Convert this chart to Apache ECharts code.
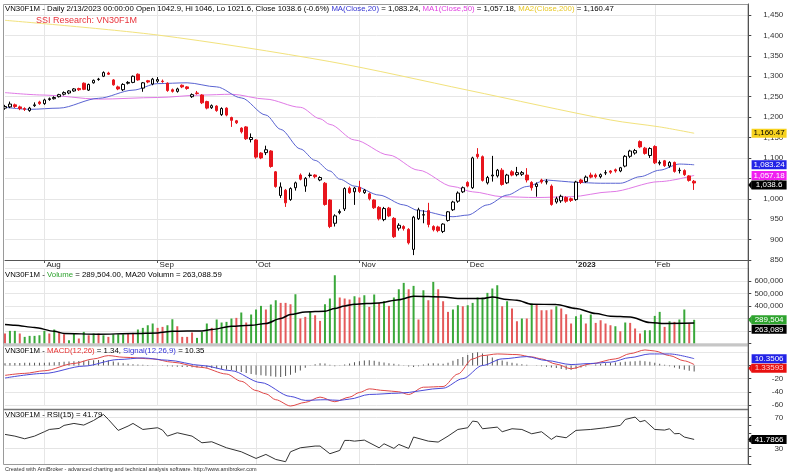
<!DOCTYPE html>
<html>
<head>
<meta charset="utf-8">
<title>VN30F1M</title>
<script src="https://cdn.jsdelivr.net/npm/echarts@6.0.0/dist/echarts.min.js"></script>
<style>
  html, body { margin: 0; padding: 0; background: #fff; }
  #chart { width: 790px; height: 472px; }
</style>
</head>
<body>
<div id="chart"></div>
<script>
// trading days on screen
const dates = [
  '2022-07-20','2022-07-21','2022-07-22','2022-07-25','2022-07-26','2022-07-27','2022-07-28','2022-07-29',
  '2022-08-01','2022-08-02','2022-08-03','2022-08-04','2022-08-05','2022-08-08','2022-08-09','2022-08-10',
  '2022-08-11','2022-08-12','2022-08-15','2022-08-16','2022-08-17','2022-08-18','2022-08-19','2022-08-22',
  '2022-08-23','2022-08-24','2022-08-25','2022-08-26','2022-08-29','2022-08-30','2022-08-31',
  '2022-09-05','2022-09-06','2022-09-07','2022-09-08','2022-09-09','2022-09-12','2022-09-13','2022-09-14',
  '2022-09-15','2022-09-16','2022-09-19','2022-09-20','2022-09-21','2022-09-22','2022-09-23','2022-09-26',
  '2022-09-27','2022-09-28','2022-09-29','2022-09-30',
  '2022-10-03','2022-10-04','2022-10-05','2022-10-06','2022-10-07','2022-10-10','2022-10-11','2022-10-12',
  '2022-10-13','2022-10-14','2022-10-17','2022-10-18','2022-10-19','2022-10-20','2022-10-21','2022-10-24',
  '2022-10-25','2022-10-26','2022-10-27','2022-10-28','2022-10-31',
  '2022-11-01','2022-11-02','2022-11-03','2022-11-04','2022-11-07','2022-11-08','2022-11-09','2022-11-10',
  '2022-11-11','2022-11-14','2022-11-15','2022-11-16','2022-11-17','2022-11-18','2022-11-21','2022-11-22',
  '2022-11-23','2022-11-24','2022-11-25','2022-11-28','2022-11-29','2022-11-30',
  '2022-12-01','2022-12-02','2022-12-05','2022-12-06','2022-12-07','2022-12-08','2022-12-09','2022-12-12',
  '2022-12-13','2022-12-14','2022-12-15','2022-12-16','2022-12-19','2022-12-20','2022-12-21','2022-12-22',
  '2022-12-23','2022-12-26','2022-12-27','2022-12-28','2022-12-29','2022-12-30',
  '2023-01-03','2023-01-04','2023-01-05','2023-01-06','2023-01-09','2023-01-10','2023-01-11','2023-01-12',
  '2023-01-13','2023-01-16','2023-01-17','2023-01-18','2023-01-19','2023-01-27','2023-01-30','2023-01-31',
  '2023-02-01','2023-02-02','2023-02-03','2023-02-06','2023-02-07','2023-02-08','2023-02-09','2023-02-10',
  '2023-02-13'
];

// [open, close, low, high]
const candles = [
  [1222,1226,1218,1230],[1225,1232,1222,1238],[1230,1226,1222,1233],[1225,1221,1217,1228],
  [1221,1219,1215,1224],[1216,1222,1213,1225],[1228,1230,1225,1236],[1237,1233,1230,1240],
  [1233,1242,1230,1245],[1243,1245,1240,1248],[1245,1248,1243,1251],[1250,1255,1248,1257],
  [1256,1260,1253,1263],[1259,1264,1256,1266],[1264,1269,1262,1271],[1270,1267,1264,1272],
  [1283,1268,1266,1285],[1266,1280,1264,1282],[1284,1290,1282,1292],[1292,1293,1289,1296],
  [1300,1309,1298,1312],[1308,1305,1303,1311],[1291,1279,1277,1293],[1274,1269,1266,1277],
  [1267,1280,1264,1283],[1283,1285,1280,1288],[1285,1300,1283,1302],[1305,1291,1289,1307],
  [1271,1284,1262,1286],[1289,1286,1283,1291],[1281,1293,1278,1296],[1288,1292,1284,1298],
  [1288,1287,1284,1292],[1283,1265,1262,1285],[1267,1263,1260,1270],[1263,1269,1260,1272],
  [1278,1274,1271,1280],[1274,1270,1267,1276],[1250,1255,1247,1258],[1259,1258,1255,1264],
  [1254,1235,1232,1256],[1238,1222,1219,1240],[1223,1228,1220,1231],[1227,1216,1213,1229],
  [1206,1221,1203,1224],[1222,1205,1202,1224],[1199,1192,1176,1201],[1191,1186,1183,1193],
  [1173,1164,1160,1175],[1176,1147,1144,1178],[1145,1150,1138,1160],[1144,1102,1098,1146],
  [1112,1100,1097,1114],[1113,1120,1107,1130],[1117,1079,1076,1119],[1066,1030,1027,1068],
  [1008,1029,1002,1040],[1021,990,980,1024],[998,1025,995,1028],[1027,1039,1020,1042],
  [1058,1048,1045,1062],[1031,1050,1017,1053],[1057,1058,1052,1064],[1058,1054,1050,1060],
  [1046,1052,1043,1055],[1038,986,983,1041],[997,932,928,999],[940,958,932,962],
  [966,969,962,974],[975,1025,970,1028],[1026,1015,1012,1030],[1017,1026,985,1029],
  [1028,1018,1014,1044],[1015,1021,1012,1024],[1012,1000,996,1015],[997,978,975,999],
  [979,951,947,982],[949,976,945,980],[977,958,955,980],[952,907,904,955],
  [928,935,922,940],[932,927,922,935],[925,892,888,928],[876,955,862,958],
  [951,973,948,978],[960,961,940,972],[971,937,930,990],[932,924,920,935],
  [931,922,918,934],[920,938,916,940],[947,968,944,970],[973,992,970,995],
  [994,1014,990,1018],[1017,1027,1014,1030],[1040,1031,1028,1043],[1027,1100,1024,1103],
  [1109,1103,1098,1124],[1103,1045,1042,1106],[1039,1052,1035,1056],[1056,1058,1042,1105],
  [1056,1070,1052,1073],[1070,1035,1032,1075],[1039,1058,1036,1061],[1066,1058,1055,1070],
  [1059,1064,1055,1078],[1060,1064,1056,1068],[1058,1046,1040,1075],[1040,1027,1020,1043],
  [1030,1036,1005,1040],[1046,1041,1037,1049],[1041,1042,1035,1048],[1031,986,983,1035],
  [992,1000,988,1005],[995,1006,990,1010],[1003,994,990,1006],[1000,996,992,1003],
  [998,1041,995,1044],[1046,1040,1036,1049],[1042,1053,1039,1057],[1058,1053,1050,1064],
  [1058,1054,1050,1062],[1054,1059,1050,1062],[1063,1064,1058,1070],[1068,1065,1061,1070],
  [1071,1068,1064,1074],[1068,1076,1065,1078],[1080,1104,1077,1107],[1104,1117,1100,1120],
  [1112,1118,1108,1122],[1140,1127,1124,1143],[1124,1111,1108,1127],[1106,1123,1100,1126],
  [1128,1088,1085,1131],[1087,1089,1082,1094],[1093,1081,1078,1095],[1080,1089,1076,1092],
  [1089,1067,1064,1091],[1069,1070,1062,1076],[1069,1059,1056,1072],[1056,1045,1042,1058],
  [1042.9,1038.6,1021.6,1046]
];

// moving averages, read at [bar index, value]
const ma20 = [[0,1224],[5,1219],[11,1222],[19,1246],[26,1266],[31,1282],[37,1284],[43,1274],
  [48,1247],[53,1205],[56,1170],[60,1122],[63,1094],[66,1068],[68,1048],[71,1031],[76,1009],
  [81,985],[84,971],[91,956],[94,960],[98,985],[102,1009],[106,1030],[110,1046],[113,1043],
  [116,1040],[121,1038],[125,1038],[129,1054],[133,1070],[137,1085],[140,1083.24]];
const ma50 = [[0,1260],[8,1254],[19,1244],[31,1248],[40,1254],[46,1256],[53,1244],[60,1224],
  [64,1196],[66,1182],[71,1144],[78,1107],[84,1070],[91,1030],[95,1017],[101,1005],[108,1003],
  [115,1005],[123,1017],[133,1042],[140,1057.18]];
const ma200 = [[0,1437],[31,1401],[66,1336],[94,1266],[123,1193],[133,1176],[140,1160.47]];

const volumes = [
  180000,201000,201000,180000,153000,161000,161000,166000,201000,180000,
  212000,193000,174000,126000,180000,140000,193000,166000,180000,180000,
  166000,153000,174000,174000,174000,180000,185000,212000,225000,246000,
  260000,225000,233000,246000,294000,238000,153000,153000,188000,145000,
  193000,260000,225000,292000,268000,273000,300000,305000,348000,268000,
  332000,372000,401000,372000,412000,446000,425000,425000,414000,494000,
  300000,313000,353000,326000,281000,414000,460000,646000,468000,460000,
  452000,478000,468000,486000,393000,492000,425000,438000,401000,468000,
  534000,585000,534000,561000,292000,526000,446000,593000,534000,438000,
  353000,372000,406000,398000,406000,425000,468000,468000,505000,540000,
  566000,398000,438000,380000,278000,300000,300000,420000,412000,366000,
  366000,372000,398000,380000,334000,260000,318000,332000,260000,332000,
  265000,286000,260000,246000,238000,198000,268000,265000,220000,180000,
  206000,206000,321000,353000,233000,278000,273000,292000,372000,260000,
  289504
];
// 1 = green bar, 0 = red bar
const volumeUp = [
  0,1,1,0,1,1,1,1,1,0, 1,0,0,1,1,0,1,0,1,0, 1,0,1,1,1,0,0,1,1,1, 1,0,0,1,1,0,0,0,0,1,
  1,1,0,1,1,1,1,0,1,0, 1,1,1,0,1,1,0,0,0,1, 0,0,1,0,0,1,1,1,0,0, 0,1,0,1,0,1,0,1,0,1,
  1,1,0,1,0,1,0,1,0,0, 0,1,1,0,1,1,1,1,1,1, 1,0,1,0,0,1,0,1,0,0, 0,0,1,0,0,0,1,1,0,1,
  0,0,0,0,1,0,1,0,0,0, 1,1,1,1,0,1,0,1,1,0,1
];
const volumeMa20 = [[0,252000],[2,246000],[6,228000],[10,198000],[12,180000],[19,174000],
  [26,180000],[31,185000],[34,198000],[40,201000],[42,212000],[46,238000],[50,246000],
  [53,260000],[56,300000],[58,332000],[61,353000],[65,358000],[67,380000],[69,401000],
  [71,414000],[76,425000],[80,450000],[83,478000],[89,473000],[92,460000],[97,460000],
  [99,473000],[102,452000],[104,446000],[107,414000],[112,412000],[116,380000],[120,340000],
  [123,318000],[127,313000],[131,268000],[134,260000],[140,263088.59]];

const macdLine = [[0,-15],[4,-12],[8,-8],[14,3],[18,10],[21,15],[24,12.5],[30,10],[34,5],
  [40,-3],[45,-13],[48,-24],[51,-38],[53,-43],[55,-52],[58,-61.5],[61,-56],[64,-48],[67,-55],
  [70,-48],[72,-41],[74,-35.5],[77,-38],[80,-40],[82,-44],[85,-33],[89,-32],[92,-13],[95,10],
  [97,15],[100,17.5],[104,16.5],[107,13],[109,10],[112,2],[115,-5],[119,2.5],[124,10],
  [127,18],[130,23.6],[132,22],[135,15],[138,7],[140,1.34]];
const signalLine = [[0,-19],[8,-12],[16,-1],[23,9],[28,11.5],[33,8],[40,0],[46,-8],[52,-26],
  [58,-47],[61,-53],[65,-52],[68,-53],[70,-51],[74,-44],[80,-42],[89,-34.5],[93,-20],[97,0],
  [101,10],[106,13.5],[110,7.5],[115,1.4],[119,3],[123,5],[127,12],[131,17.5],[135,17.5],
  [140,10.35]];
const macdHist = [
  3.5,3.6,3.8,3.9,4,4,4.1,4.2, 4.3,4.5,4.8,5.2,5.8,6.2,6.6,6.8,
  7.2,7.5,7.8,8.2,8.5,7.6,6, 4.5,3.2,2.5,2,1.5,1,0.8,0.5,
  0,-0.6,-1.2,-1.6,-2,-2.3,-2.5,-2.8,-3, -3.2,-3.6,-4,-4.5,-5.2,-6,-7,-8.5,
  -10,-11.5,-13,-14,-15,-15.5,-16.5,-17,-17.5,-16, -14,-11,-7.5,-3.5,-0.5,2,
  3.5,3,1,-1,-0.5,1.5, 3,5,6.5,7.5,8,7,5.5,4.5,3.5,2.5, 1.5,0.5,-1.5,-2.5,-1,
  1.5,3,3.5,3,2.5,4,7, 10,13,16,19,20,18,15,12,9.5, 7.5,5.5,4,3,2,1,0,
  -0.5,-1,-2,-3,-4,-5.5,-6.5,-6.5, -5,-3,-1.5,0,1.5,2.5,3.5,4,
  4.5,5,5.5,6,6.5,7,6.5,5.5, 4,2.5,1,-1,-3,-5,-6.5,-8,-9
];

const rsi = [[0,48.2],[2,46],[4,42.6],[6,46],[8,51.6],[9,54.5],[11,55.8],[12,59.7],[14,62.2],
  [16,60.1],[18,66],[20,73.7],[21,67.3],[23,53.3],[25,58.8],[26,62.2],[28,54.5],[31,56.7],
  [32,53.7],[33,46],[35,50.3],[38,46],[40,37.5],[42,38.8],[45,31.1],[48,26],[51,17.5],
  [53,22.6],[55,16.2],[57,13.3],[58,26],[60,31.1],[63,33.3],[64,33.3],[66,23.5],[68,27.7],
  [69,40.5],[70,40.5],[71,39.6],[73,40.9],[76,31.1],[77,36.2],[79,30.3],[80,35.4],[82,30.3],
  [83,44.8],[86,39.6],[88,38.4],[90,46],[92,54.5],[94,56.7],[95,65.2],[96,64.3],[97,55.4],
  [100,57.5],[101,51.6],[103,55.4],[105,54.5],[107,49],[109,51.6],[111,41.8],[112,46],
  [114,43.9],[116,53.3],[119,54.5],[122,56.7],[125,59.7],[126,67.3],[128,70.3],[129,64.3],
  [130,66],[132,54.5],[134,53.7],[135,55.4],[136,49],[137,49.4],[138,44.8],[140,41.79]];

// last values shown in the tags on the right axis
const priceTags = [1160.47, 1083.24, 1057.18, 1038.6];
const volumeTags = [289504, 263088.59];
const macdTags = [10.3506, 1.33593];
const rsiTags = [41.7866];

const monthNames = ['Jan','Feb','Mar','Apr','May','Jun','Jul','Aug','Sep','Oct','Nov','Dec'];

const FONT = '"Liberation Sans", Arial, sans-serif';
const RED = '#e8141c';
const padCount = 11;
const categories = dates.concat(Array.from({ length: padCount }, (_, k) => 'pad' + k));

function isMonthStart(index) {
  return index > 0 && index < dates.length &&
    dates[index].slice(5, 7) !== dates[index - 1].slice(5, 7);
}

function xAxisFor(gridIndex, withLabels) {
  return {
    type: 'category', gridIndex: gridIndex, data: categories, boundaryGap: false,
    axisLine: { show: withLabels, lineStyle: { color: '#555' } },
    axisTick: { show: withLabels, interval: isMonthStart, length: 3, lineStyle: { color: '#555' } },
    axisLabel: {
      show: withLabels, interval: isMonthStart, align: 'left', margin: 1, padding: [0, 0, 0, 2],
      fontSize: 8, fontFamily: FONT, color: '#222',
      formatter: function (value) {
        if (value.indexOf('pad') === 0) return '';
        const m = +value.slice(5, 7);
        return m === 1 ? '{b|' + value.slice(0, 4) + '}' : monthNames[m - 1];
      },
      rich: { b: { fontWeight: 'bold', fontSize: 8, fontFamily: FONT, color: '#222' } }
    },
    splitLine: { show: true, interval: isMonthStart, lineStyle: { color: '#e6e6e6' } }
  };
}

function yAxisFor(gridIndex, min, max, interval, formatter, splitColor) {
  return {
    type: 'value', gridIndex: gridIndex, position: 'right', min: min, max: max, interval: interval,
    axisLine: { show: true, lineStyle: { color: '#444' } },
    axisTick: { show: true, length: 3, lineStyle: { color: '#444' } },
    axisLabel: { fontSize: 8, fontFamily: FONT, color: '#333', align: 'right', margin: 35,
      showMaxLabel: false, formatter: formatter },
    splitLine: { show: true, lineStyle: { color: splitColor || '#e6e6e6' } }
  };
}

const fmt = (v) => v.toLocaleString('en-US');
const gridBase = { left: 5, right: 41.7, containLabel: false, outerBoundsMode: 'none' };

const txt = { fontSize: 7.8, fontFamily: FONT, color: '#000', fontWeight: 'normal' };
const header = (left, top, text, rich) => ({
  left: left, top: top, padding: 0, text: text,
  textStyle: Object.assign({ rich: rich }, txt)
});

const option = {
  animation: false,
  backgroundColor: '#fff',
  title: [
    header(5, 5,
      '{k|VN30F1M - Daily 2/13/2023 00:00:00 Open 1042.9, Hi 1046, Lo 1021.6, Close 1038.6 (-0.6%) }' +
      '{b|MA(Close,20)}{k| = 1,083.24, }{m|MA1(Close,50)}{k| = 1,057.18, }{y|MA2(Close,200)}{k| = 1,160.47}',
      { k: txt, b: Object.assign({}, txt, { color: '#3232d2' }), m: Object.assign({}, txt, { color: '#e040e0' }),
        y: Object.assign({}, txt, { color: '#e8c828' }) }),
    { left: 36, top: 16, padding: 0, text: 'SSI Research: VN30F1M',
      textStyle: { fontSize: 9, fontFamily: FONT, color: '#e8343c', fontWeight: 'normal' } },
    header(5, 271, '{k|VN30F1M - }{g|Volume}{k| = 289,504.00, MA20 Volumn = 263,088.59}',
      { k: txt, g: Object.assign({}, txt, { color: '#2ea32e' }) }),
    header(5, 347, '{k|VN30F1M - }{r|MACD(12,26)}{k| = 1.34, }{b|Signal(12,26,9)}{k| = 10.35}',
      { k: txt, r: Object.assign({}, txt, { color: '#e83030' }), b: Object.assign({}, txt, { color: '#3434d8' }) }),
    header(5, 411, '{k|VN30F1M - RSI(15) = 41.79}', { k: txt }),
    { left: 5, top: 466, padding: 0, text: 'Created with AmiBroker - advanced charting and technical analysis software. http://www.amibroker.com',
      textStyle: { fontSize: 5.5, fontFamily: FONT, color: '#333', fontWeight: 'normal' } }
  ],
  grid: [
    Object.assign({ top: 4, height: 256 }, gridBase),
    Object.assign({ top: 268.5, height: 75 }, gridBase),
    Object.assign({ top: 352.3, height: 52.7 }, gridBase),
    Object.assign({ top: 409.5, height: 54.8 }, gridBase)
  ],
  xAxis: [xAxisFor(0, true), xAxisFor(1, false), xAxisFor(2, false), xAxisFor(3, false)],
  yAxis: [
    yAxisFor(0, 850, 1477, 50, (v) => (v <= 1450 ? fmt(v) : '')),
    yAxisFor(1, 100000, 700000, 100000, (v) => (v >= 200000 && v <= 600000 ? fmt(v) : '')),
    yAxisFor(2, -60, 20, 20, (v) => String(v)),
    yAxisFor(3, 10, 80, 10, (v) => (v === 30 || v === 70 ? String(v) : ''),
      ['transparent', 'transparent', '#e4e4e4', 'transparent', 'transparent', 'transparent', '#e4e4e4', 'transparent'])
  ],
  series: [
    { type: 'line', name: 'MA200', xAxisIndex: 0, yAxisIndex: 0, data: ma200, symbol: 'none', smooth: 0.3,
      lineStyle: { color: '#f2e27c', width: 1 }, z: 1 },
    { type: 'line', name: 'MA50', xAxisIndex: 0, yAxisIndex: 0, data: ma50, symbol: 'none', smooth: 0.3,
      smoothMonotone: 'x', lineStyle: { color: '#e07ae6', width: 1 }, z: 1 },
    { type: 'line', name: 'MA20', xAxisIndex: 0, yAxisIndex: 0, data: ma20, symbol: 'none', smooth: 0.3,
      smoothMonotone: 'x', lineStyle: { color: '#5a64d2', width: 1 }, z: 1 },
    { type: 'candlestick', name: 'VN30F1M', xAxisIndex: 0, yAxisIndex: 0, data: candles, barWidth: 3,
      itemStyle: { color: '#fff', color0: RED, borderColor: '#000', borderColor0: RED, borderColorDoji: '#000', borderWidth: 1 },
      z: 3 },
    { type: 'bar', name: 'Volume', xAxisIndex: 1, yAxisIndex: 1, barWidth: 2,
      data: volumes.map((v, i) => ({ value: v, itemStyle: { color: volumeUp[i] ? '#3aa83a' : '#e45a5a' } })) },
    { type: 'line', name: 'MA20 Volume', xAxisIndex: 1, yAxisIndex: 1, data: volumeMa20, symbol: 'none',
      smooth: 0.3, smoothMonotone: 'x', lineStyle: { color: '#000', width: 1.5 } },
    { type: 'bar', name: 'MACD hist', xAxisIndex: 2, yAxisIndex: 2, data: macdHist, barWidth: 1,
      itemStyle: { color: '#555' } },
    { type: 'line', name: 'MACD', xAxisIndex: 2, yAxisIndex: 2, data: macdLine, symbol: 'none', smooth: 0.3,
      smoothMonotone: 'x', clip: false, lineStyle: { color: '#e04848', width: 1 } },
    { type: 'line', name: 'Signal', xAxisIndex: 2, yAxisIndex: 2, data: signalLine, symbol: 'none', smooth: 0.3,
      smoothMonotone: 'x', clip: false, lineStyle: { color: '#4a4ad8', width: 1 } },
    { type: 'line', name: 'RSI', xAxisIndex: 3, yAxisIndex: 3, data: rsi, symbol: 'none',
      lineStyle: { color: '#333', width: 1 } }
  ]
};

const chart = echarts.init(document.getElementById('chart'));
chart.setOption(option);

// pane frames and value tags on the right axis
const AXIS_X = 748.3;
const elements = [
  { type: 'rect', silent: true, z: 50, shape: { x: 3.5, y: 4.5, width: AXIS_X - 3.5, height: 460 },
    style: { fill: 'none', stroke: '#9a9a9a', lineWidth: 1 } },
  { type: 'rect', silent: true, z: 50, shape: { x: 3.5, y: 343.5, width: AXIS_X - 3.5, height: 3 },
    style: { fill: '#c6c6c6' } },
  { type: 'line', silent: true, z: 50, shape: { x1: 3.5, y1: 409.5, x2: AXIS_X, y2: 409.5 },
    style: { stroke: '#777', lineWidth: 1.5 } },
  { type: 'line', silent: true, z: 50, shape: { x1: AXIS_X, y1: 4.5, x2: AXIS_X, y2: 464.5 },
    style: { stroke: '#444', lineWidth: 1 } }
];

const tagPanes = [
  { axis: 0, values: priceTags, styles: [['#f7d21e', '#000', false], ['#2323e6', '#fff', false], ['#f020f0', '#fff', false], ['#000', '#fff', true]] },
  { axis: 1, values: volumeTags, styles: [['#2ea32e', '#fff', true], ['#000', '#fff', false]] },
  { axis: 2, values: macdTags, styles: [['#2323e6', '#fff', false], ['#e81010', '#ffd0d0', true]] },
  { axis: 3, values: rsiTags, styles: [['#000', '#fff', true]] }
];

tagPanes.forEach(function (pane) {
  const tags = pane.values.map(function (v, k) {
    return { value: v, style: pane.styles[k], y: chart.convertToPixel({ yAxisIndex: pane.axis }, v) };
  }).sort((a, b) => a.y - b.y);
  for (let k = 1; k < tags.length; k++) {
    if (tags[k].y < tags[k - 1].y + 9.5) tags[k].y = tags[k - 1].y + 9.5;
  }
  tags.forEach(function (t) {
    const label = t.value.toLocaleString('en-US', { maximumSignificantDigits: 6 });
    if (t.style[2]) {
      elements.push({ type: 'polygon', silent: true, z: 60,
        shape: { points: [[AXIS_X, t.y], [AXIS_X + 3.5, t.y - 4.5], [AXIS_X + 3.5, t.y + 4.5]] },
        style: { fill: t.style[0] } });
    }
    elements.push({ type: 'rect', silent: true, z: 60,
      shape: { x: AXIS_X + 3.3, y: t.y - 4.5, width: 35, height: 9 }, style: { fill: t.style[0] } });
    elements.push({ type: 'text', silent: true, z: 61, x: AXIS_X + 20.8, y: t.y,
      style: { text: label, fill: t.style[1], font: '8px ' + FONT, align: 'center', verticalAlign: 'middle' } });
  });
});

chart.setOption({ graphic: { elements: elements } });
</script>
</body>
</html>
